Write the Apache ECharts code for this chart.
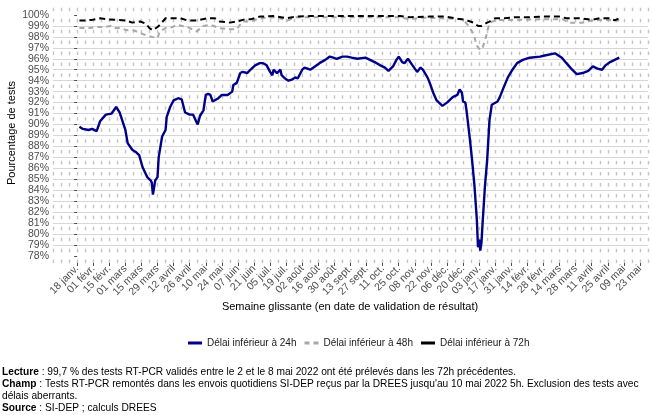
<!DOCTYPE html>
<html><head><meta charset="utf-8">
<script src="https://cdn.jsdelivr.net/npm/echarts@6/dist/echarts.min.js"></script>
<style>html,body{margin:0;padding:0;background:#fff}#c{width:652px;height:415px}</style>
</head><body><div id="c"></div>
<script>
// Jour 0 = 18 janv. 2021 ; semaine glissante placée au milieu de la semaine
const tickLabels = ['18 janv.','01 févr.','15 févr.','01 mars','15 mars','29 mars','12 avril','26 avril','10 mai','24 mai','07 juin','21 juin','05 juil.','19 juil.','02 août','16 août','30 août','13 sept.','27 sept.','11 oct.','25 oct.','08 nov.','22 nov.','06 déc.','20 déc.','03 janv.','17 janv.','31 janv.','14 févr.','28 févr.','14 mars','28 mars','11 avril','25 avril','09 mai','23 mai'];
const yTicks = [78,79,80,81,82,83,84,85,86,87,88,89,90,91,92,93,94,95,96,97,98,99,100];

const days24 = [2,5,10,13,17,20,25,30,34,37,42,44,48,51,52,54,57,61,64,65,66,68,70,71,74,77,78,81,84,88,91,94,98,101,104,105,107,110,112,114,116,118,123,126,131,135,136,139,142,144,148,151,155,159,162,165,168,170,171,174,177,178,181,184,187,190,192,196,198,203,207,211,216,220,223,226,231,235,239,244,251,255,259,264,268,271,275,278,280,283,285,288,292,296,299,301,305,307,310,313,318,322,327,331,333,335,336,338,339,340,342,344,345,346,348,349,350,351,352,353,355,357,358,359,361,366,368,371,375,379,383,388,394,403,407,416,419,422,426,431,435,440,445,449,453,457,460,464,468,472];
const values24 = [89.8,89.6,89.5,89.6,89.4,90.3,90.9,91.0,91.6,91.1,89.5,88.3,87.7,87.5,87.6,87.2,86.1,85.2,84.9,84.7,83.6,84.9,85.2,87.0,88.9,89.5,90.7,91.6,92.2,92.4,92.3,91.1,90.9,90.9,90.2,90.0,90.8,91.3,92.7,92.8,92.7,92.1,92.4,92.7,92.7,93.0,93.6,93.8,94.7,94.8,94.7,95.0,95.4,95.6,95.6,95.4,94.8,94.5,95.0,94.7,95.0,94.5,94.2,94.0,94.1,94.3,94.2,95.0,95.2,95.0,95.3,95.6,95.9,96.2,96.1,96.0,96.2,96.2,96.1,96.0,96.1,95.9,95.7,95.4,95.2,94.9,95.3,95.9,96.2,95.7,95.6,96.0,95.4,94.8,95.2,95.0,94.3,93.8,92.9,92.2,91.7,92.0,92.5,92.7,93.2,92.9,92.1,92.0,91.3,90.4,88.6,86.6,86.5,84.3,81.3,78.8,79.5,78.5,79.2,81.0,84.3,86.8,88.6,90.4,91.8,92.1,92.5,93.3,94.3,95.0,95.6,95.9,96.1,96.2,96.3,96.5,96.3,96.1,95.6,95.0,94.6,94.7,94.9,95.3,95.1,95.0,95.4,95.7,95.9,96.1];

const days48 = [2,11,17,24,29,33,37,44,49,55,61,65,70,72,77,81,87,96,104,110,116,124,133,139,144,151,159,172,183,191,220,264,281,290,299,316,329,336,340,345,348,351,353,356,359,366,383,403,423,428,440,446,455,464,472];
const values48 = [98.8,98.8,98.9,98.9,99.0,98.8,98.8,98.6,98.6,98.35,98.1,98.0,97.9,98.5,98.8,98.8,99.1,98.9,98.5,99.0,99.1,98.8,98.7,98.7,99.4,99.4,99.7,99.8,99.5,99.8,99.8,99.8,99.8,99.6,99.75,99.7,99.65,99.6,99.1,98.3,97.2,96.8,97.0,98.0,99.3,99.55,99.55,99.6,99.6,99.3,99.3,99.45,99.55,99.55,99.5];

const days72 = [2,7,13,20,27,36,42,48,55,60,63,66,70,72,77,83,90,96,103,107,113,120,124,133,139,146,151,159,172,182,191,203,229,255,281,290,307,320,329,338,345,349,352,357,359,364,372,381,394,407,420,426,438,448,455,464,468,472];
const values72 = [99.5,99.5,99.55,99.7,99.6,99.55,99.5,99.3,99.4,99.2,98.8,98.6,98.9,99.1,99.7,99.7,99.7,99.5,99.5,99.55,99.7,99.7,99.4,99.3,99.4,99.6,99.6,99.85,99.9,99.7,99.85,99.9,99.9,99.9,99.9,99.8,99.85,99.85,99.7,99.55,99.3,99.0,99.0,99.3,99.4,99.7,99.7,99.8,99.8,99.85,99.85,99.7,99.7,99.55,99.7,99.7,99.5,99.7];

const seriesNames = ['Délai inférieur à 24h','Délai inférieur à 48h','Délai inférieur à 72h'];
const noteLecture = '99,7 % des tests RT-PCR validés entre le 2 et le 8 mai 2022 ont été prélevés dans les 72h précédentes.';
const noteChamp1 = 'Tests RT-PCR remontés dans les envois quotidiens SI-DEP reçus par la DREES jusqu\'au 10 mai 2022 5h. Exclusion des tests avec';
const noteChamp2 = 'délais aberrants.';
const noteSource = 'SI-DEP ; calculs DREES';

const pairs = (d, v) => d.map((x, i) => [x, v[i]]);
const FONT = '"Liberation Sans", Arial, sans-serif';
const NOTE_FS = 10.2;

const chart = echarts.init(document.getElementById('c'), null, {renderer: 'canvas'});
chart.setOption({
  animation: false,
  textStyle: {fontFamily: FONT},
  grid: {left: 53, right: 4, top: 4, bottom: 152, containLabel: false},
  xAxis: [{
    type: 'value', min: -21, max: 497, interval: 7,
    axisLine: {show: false},
    axisTick: {show: true, length: 3, customValues: tickLabels.map((_, i) => i * 14), lineStyle: {color: '#4d4d4d', width: 1}},
    axisLabel: {customValues: tickLabels.map((_, i) => i * 14), rotate: 45, fontSize: 10.5, color: '#4d4d4d', margin: 4,
      formatter: v => tickLabels[Math.round(v / 14)] || ''},
    splitLine: {show: false}
  }, {
    type: 'value', min: -21, max: 497, interval: 7, position: 'bottom',
    axisLine: {show: false}, axisTick: {show: false}, axisLabel: {show: false},
    splitLine: {show: true, lineStyle: {color: '#c4c4c4', width: 1.4, type: [3.5, 7.45], dashOffset: 7.2}}
  }],
  yAxis: {
    type: 'value', min: 77.36, max: 101.0, minInterval: 1, maxInterval: 1,
    axisLine: {show: false},
    axisTick: {show: true, length: 3, customValues: yTicks, lineStyle: {color: '#4d4d4d'}},
    axisLabel: {customValues: yTicks, fontSize: 10.5, color: '#4d4d4d', margin: 4, formatter: v => v + '%'},
    splitLine: {show: true, showMinLine: false, showMaxLine: false, lineStyle: {color: '#d6d6d6', width: 1}}
  },
  legend: {
    left: 183, top: 333, itemWidth: 14, itemHeight: 3, itemGap: 8,
    textStyle: {fontSize: 10, color: '#1a1a1a', fontFamily: FONT},
    data: [
      {name: seriesNames[0], icon: 'rect'},
      {name: seriesNames[1], icon: 'path://M0,0H5V3H0Z M9,0H14V3H9Z'},
      {name: seriesNames[2], icon: 'rect'}
    ]
  },
  series: [
    {name: seriesNames[0], type: 'line', showSymbol: false, symbol: 'none', data: pairs(days24, values24),
      lineStyle: {color: '#00008B', width: 2.4}, itemStyle: {color: '#00008B'}, z: 3},
    {name: seriesNames[1], type: 'line', showSymbol: false, symbol: 'none', data: pairs(days48, values48),
      lineStyle: {color: '#a8a8a8', width: 2, type: [5, 4]}, itemStyle: {color: '#a8a8a8'}, z: 2},
    {name: seriesNames[2], type: 'line', showSymbol: false, symbol: 'none', data: pairs(days72, values72),
      lineStyle: {color: '#000000', width: 2, type: [6, 4]}, itemStyle: {color: '#000000'}, z: 4}
  ],
  graphic: [
    {type: 'text', x: 350, y: 307, style: {text: 'Semaine glissante (en date de validation de résultat)', font: '11px ' + FONT, fill: '#000', textAlign: 'center', textVerticalAlign: 'middle'}},
    {type: 'text', x: 12, y: 133, rotation: Math.PI / 2, style: {text: 'Pourcentage de tests', font: '11px ' + FONT, fill: '#000', textAlign: 'center', textVerticalAlign: 'middle'}},
    {type: 'text', x: 2, y: 366, style: {
      text: '{b|Lecture} : ' + noteLecture + '\n{b|Champ} : ' + noteChamp1 + '\n' + noteChamp2 + '\n{b|Source} : ' + noteSource,
      font: NOTE_FS + 'px ' + FONT, fill: '#000', lineHeight: 12,
      rich: {b: {fontWeight: 'bold', fontSize: NOTE_FS, fontFamily: FONT, fill: '#000'}}
    }}
  ]
});
</script></body></html>
